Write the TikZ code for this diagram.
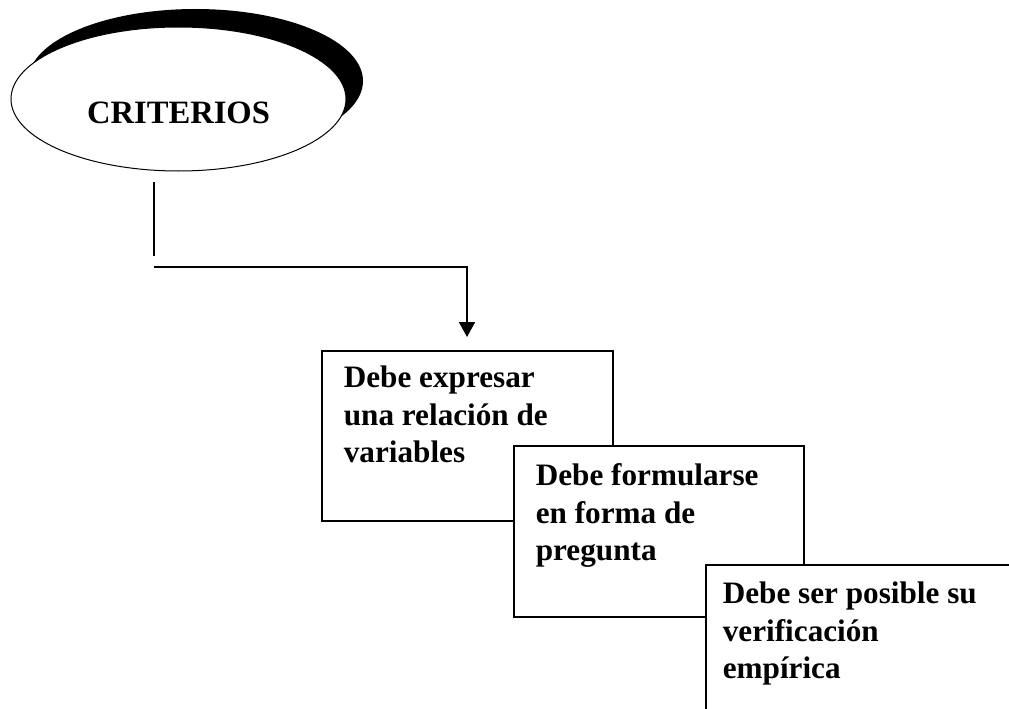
\documentclass[tikz,border=0pt]{standalone}
\usepackage{fontspec}
\setmainfont{Liberation Serif}
\usetikzlibrary{shapes.geometric,shadows,arrows.meta}

\begin{document}
\begin{tikzpicture}[x=1pt,y=-1pt,
  headnode/.style={ellipse, draw, line width=1pt, fill=white,
    minimum width=335pt, minimum height=144pt, inner sep=0pt,
    text height=48pt, text depth=0pt,
    font=\bfseries\fontsize{32.6}{38}\selectfont,
    general shadow={shadow xshift=17pt, shadow yshift=18pt, fill=black}},
  stepbox/.style={draw, line width=1.7pt, fill=white, anchor=north west,
    inner ysep=0pt, font=\bfseries\fontsize{31.2}{37.2}\selectfont},
  link/.style={line width=1.7pt},
  arrowlink/.style={line width=1.7pt, -{Triangle[length=15pt,width=16pt]}}]

  % page frame
  \useasboundingbox (0,0) rectangle (1009,709);
  \clip (0,0) rectangle (1009,709);
  \fill[white] (0,0) rectangle (1009,709);

  % heading
  \node[headnode] (crit) at (178.5,99) {CRITERIOS};

  % the three criteria, each overlapping the previous one
  \node[stepbox, inner xsep=22pt] (c1) at (321,350)
    {\parbox[t][170pt][t]{247pt}{\raggedright\rule{0pt}{37pt}Debe expresar\\una relación de\\variables}};
  \node[stepbox, inner xsep=22pt] (c2) at (513,445)
    {\parbox[t][171pt][t]{246pt}{\raggedright\rule{0pt}{40pt}Debe formularse\\en forma de\\pregunta}};
  \node[stepbox, inner xsep=17pt] (c3) at (705,564)
    {\parbox[t][180pt][t]{306pt}{\raggedright\rule{0pt}{39pt}Debe ser posible su\\verificación\\empírica}};

  % connector from the heading down to the first criterion
  \coordinate (dropTop) at (154,182);
  \coordinate (dropEnd) at (154,256);
  \coordinate (runStart) at (154,267);
  \coordinate (arrowTip) at (467,337);
  \draw[link] (dropTop) -- (dropEnd);
  \draw[arrowlink] (runStart) -| (arrowTip);
\end{tikzpicture}
\end{document}
